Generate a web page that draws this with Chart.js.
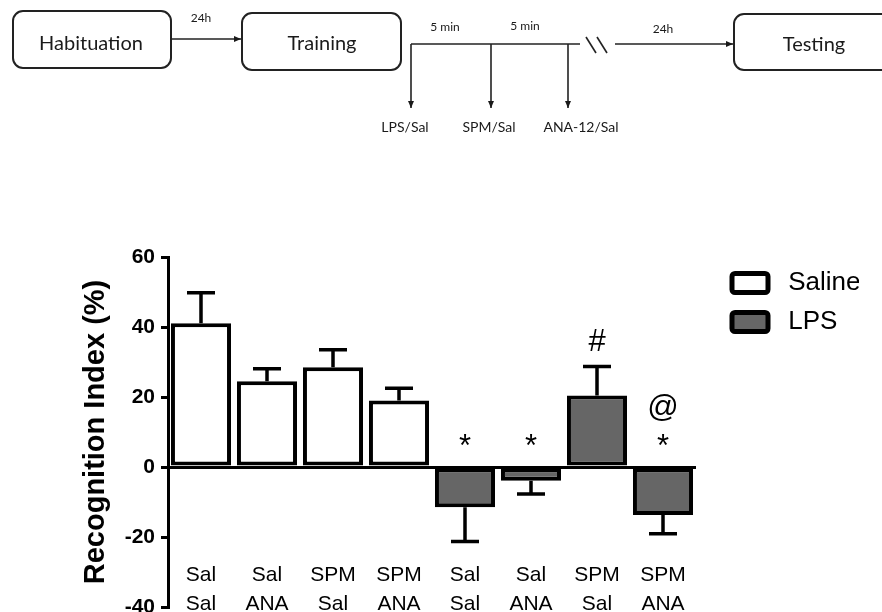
<!DOCTYPE html>
<html>
<head>
<meta charset="utf-8">
<script src="https://cdn.jsdelivr.net/npm/chart.js@4.4.0/dist/chart.umd.min.js"></script>
<style>
  html, body { margin: 0; padding: 0; background: #fff; width: 882px; height: 612px; overflow: hidden; }
  #wrap { position: absolute; left: 0; top: 0; width: 882px; height: 640px; }
  #flow { position: absolute; left: 0; top: 0; width: 882px; height: 150px; font-family: Lato, "Open Sans", sans-serif; color: #1a1a1a; }
  .box { position: absolute; border: 2px solid #222; border-radius: 11px; box-sizing: border-box; }
  .t { position: absolute; white-space: nowrap; transform: translate(-50%, -50%); line-height: 1; }
  .big { font-size: 20px; }
  .small { font-size: 12px; }
  .mid { font-size: 14px; }
</style>
</head>
<body>
<div id="wrap"><canvas id="chart"></canvas></div>

<div id="flow">
  <div class="box" style="left:12px;top:10px;width:160px;height:59px"></div>
  <div class="box" style="left:241px;top:12px;width:161px;height:59px"></div>
  <div class="box" style="left:733px;top:13px;width:170px;height:58px"></div>
  <svg width="882" height="150" style="position:absolute;left:0;top:0">
    <defs>
      <marker id="ah" markerWidth="8" markerHeight="8" refX="7" refY="4" orient="auto" markerUnits="userSpaceOnUse">
        <path d="M0,1 L7,4 L0,7 z" fill="#1a1a1a"/>
      </marker>
    </defs>
    <g stroke="#222" stroke-width="1.6" fill="none">
      <line x1="172" y1="39" x2="241" y2="39" marker-end="url(#ah)"/>
      <line x1="411" y1="44" x2="580" y2="44"/>
      <line x1="411" y1="44" x2="411" y2="108" marker-end="url(#ah)"/>
      <line x1="491" y1="44" x2="491" y2="108" marker-end="url(#ah)"/>
      <line x1="568" y1="44" x2="568" y2="108" marker-end="url(#ah)"/>
      <line x1="586" y1="37" x2="596" y2="53"/>
      <line x1="597" y1="37" x2="607" y2="53"/>
      <line x1="615" y1="44" x2="733" y2="44" marker-end="url(#ah)"/>
    </g>
  </svg>
  <div class="t big" style="left:91px;top:42px">Habituation</div>
  <div class="t big" style="left:322px;top:42px">Training</div>
  <div class="t big" style="left:814px;top:43px">Testing</div>
  <div class="t small" style="left:201px;top:18px">24h</div>
  <div class="t small" style="left:445px;top:27px">5 min</div>
  <div class="t small" style="left:525px;top:26px">5 min</div>
  <div class="t small" style="left:663px;top:29px">24h</div>
  <div class="t mid" style="left:405px;top:127px">LPS/Sal</div>
  <div class="t mid" style="left:489px;top:127px">SPM/Sal</div>
  <div class="t mid" style="left:581px;top:127px">ANA-12/Sal</div>
</div>

<script>
// group labels (two lines each)
const categories = [['Sal', 'Sal'], ['Sal', 'ANA'], ['SPM', 'Sal'], ['SPM', 'ANA'],
                    ['Sal', 'Sal'], ['Sal', 'ANA'], ['SPM', 'Sal'], ['SPM', 'ANA']];
const salineMeans = [41.1, 24.5, 28.5, 19.0, null, null, null, null];
const salineSem   = [8.7, 3.6, 5.0, 3.5, null, null, null, null];
const lpsMeans    = [null, null, null, null, -11.5, -3.9, 20.4, -13.7];
const lpsSem      = [null, null, null, null, 9.8, 3.8, 8.3, 5.4];
const marks       = [[], [], [], [], ['*'], ['*'], ['#'], ['*', '@']];
const yTicks      = [-40, -20, 0, 20, 40, 60];

const FONT = 'Arial, "Liberation Sans", Helvetica, sans-serif';
Chart.defaults.font.family = FONT;
Chart.defaults.color = '#000';

// one-sided SEM bars, drawn away from zero
const errorBars = {
  id: 'errorBars',
  afterDatasetsDraw(chart) {
    const ctx = chart.ctx, y = chart.scales.y;
    const sems = [salineSem, lpsSem];
    chart.data.datasets.forEach((ds, i) => {
      chart.getDatasetMeta(i).data.forEach((bar, j) => {
        const v = ds.data[j];
        if (v == null) return;
        const end = y.getPixelForValue(v + Math.sign(v) * sems[i][j]);
        ctx.save();
        ctx.strokeStyle = '#000';
        ctx.lineWidth = 3.5;
        ctx.beginPath();
        ctx.moveTo(bar.x, bar.y);
        ctx.lineTo(bar.x, end);
        ctx.moveTo(bar.x - 14, end);
        ctx.lineTo(bar.x + 14, end);
        ctx.stroke();
        ctx.restore();
      });
    });
  }
};

// significance marks above each group, plus the two-line group labels
const groupText = {
  id: 'groupText',
  afterDatasetsDraw(chart) {
    const ctx = chart.ctx, x = chart.scales.x, y = chart.scales.y;
    const bottom = chart.chartArea.bottom;
    ctx.save();
    ctx.fillStyle = '#000';
    ctx.textAlign = 'center';
    ctx.textBaseline = 'alphabetic';
    categories.forEach((lines, j) => {
      const cx = x.getPixelForValue(j);
      const v = salineMeans[j] != null ? salineMeans[j] : lpsMeans[j];
      const sem = salineMeans[j] != null ? salineSem[j] : lpsSem[j];
      const top = y.getPixelForValue(v > 0 ? v + sem : 0);
      ctx.font = '31px ' + FONT;
      marks[j].forEach((t, k) => {
        const m = ctx.measureText(t);
        const cy = top - 27 - 33 * k;
        ctx.fillText(t, cx, cy + (m.actualBoundingBoxAscent - m.actualBoundingBoxDescent) / 2);
      });
      ctx.font = '21px ' + FONT;
      ctx.fillText(lines[0], cx, bottom - 34 + 7.5);
      ctx.fillText(lines[1], cx, bottom - 5 + 7.5);
    });
    ctx.restore();
  }
};

new Chart(document.getElementById('chart'), {
  type: 'bar',
  data: {
    labels: categories.map(c => c.join(' ')),
    datasets: [
      { label: 'Saline', data: salineMeans, backgroundColor: '#ffffff', borderColor: '#000', borderWidth: 4, borderSkipped: false },
      { label: 'LPS', data: lpsMeans, backgroundColor: '#666666', borderColor: '#000', borderWidth: 4, borderSkipped: false }
    ]
  },
  options: {
    responsive: true,
    maintainAspectRatio: false,
    animation: false,
    layout: { padding: { top: 257, bottom: 33, left: 79, right: 23 } },
    datasets: { bar: { grouped: false, barPercentage: 0.91, categoryPercentage: 1 } },
    scales: {
      x: { display: false },
      y: {
        min: yTicks[0], max: yTicks[yTicks.length - 1],
        ticks: { stepSize: 20, padding: 6, color: '#000', font: { size: 21, weight: 'bold' } },
        grid: {
          drawOnChartArea: true,
          color: c => (c.tick && c.tick.value === 0 ? '#000' : 'rgba(0,0,0,0)'),
          lineWidth: 3,
          tickColor: '#000', tickWidth: 3, tickLength: 7
        },
        border: { display: true, color: '#000', width: 3 },
        title: { display: true, text: 'Recognition Index (%)', color: '#000', padding: 0, font: { size: 29, weight: 'bold' } },
        afterFit: s => { s.width = 89; }
      },
      gap: {
        type: 'linear', position: 'right', display: true,
        grid: { display: false }, ticks: { display: false }, border: { display: false },
        afterFit: s => { s.width = 23; }
      }
    },
    plugins: {
      tooltip: { enabled: false },
      legend: {
        position: 'right',
        align: 'start',
        maxWidth: 140,
        labels: {
          boxWidth: 36, boxHeight: 19, padding: 13, color: '#000',
          useBorderRadius: true, borderRadius: 3,
          font: { size: 26 },
          generateLabels: chart => Chart.defaults.plugins.legend.labels.generateLabels(chart)
            .map(l => Object.assign(l, { text: ' ' + l.text, lineWidth: 5 }))
        }
      }
    }
  },
  plugins: [errorBars, groupText]
});
</script>
</body>
</html>
